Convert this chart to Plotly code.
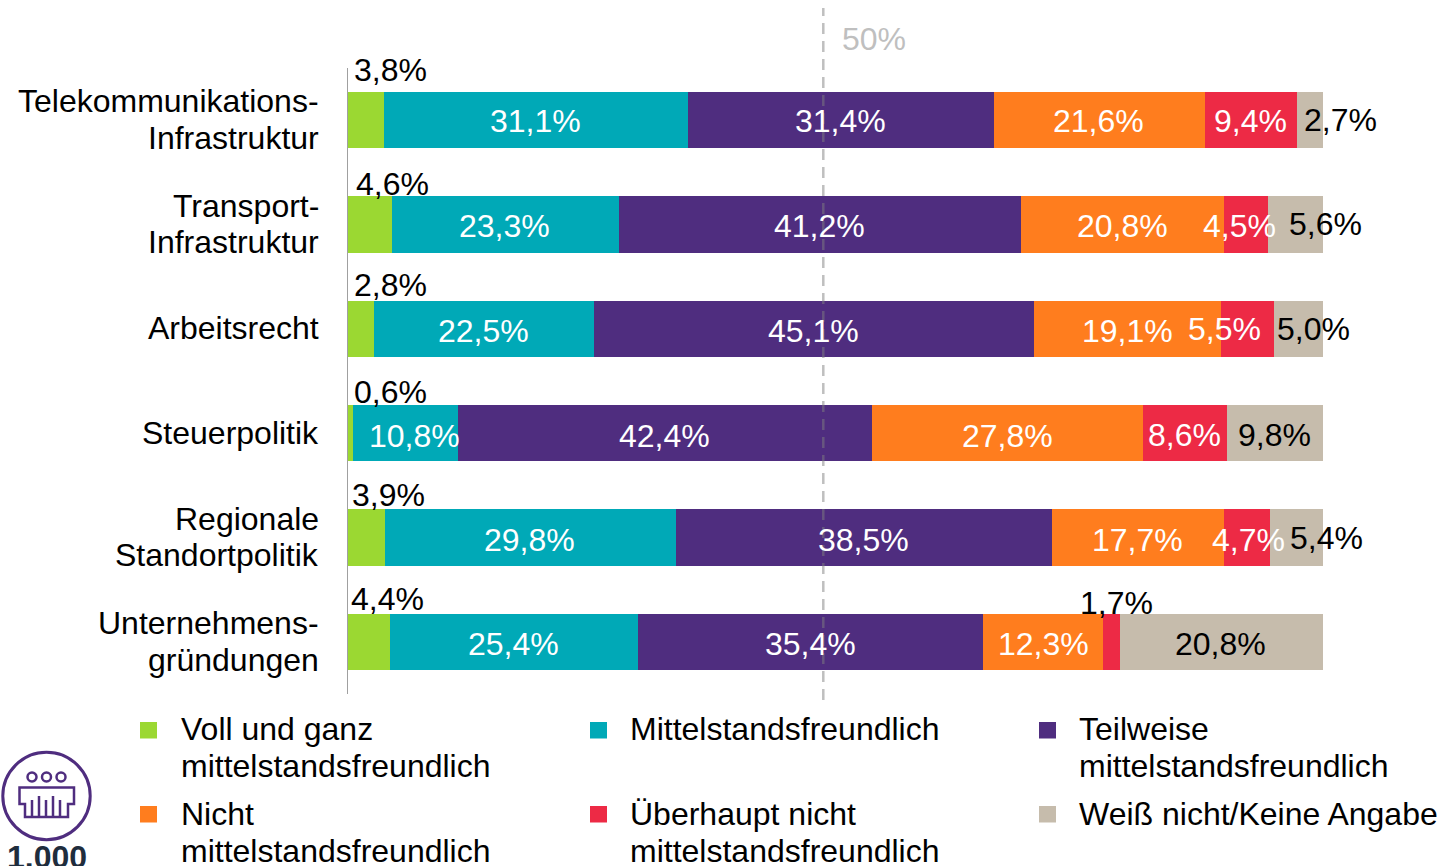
import plotly.graph_objects as go

W, H = 1443, 866
M_L, M_R, M_T, M_B = 347, 120, 68, 172

CATEGORIES = ["Telekommunikations-Infrastruktur", "Transport-Infrastruktur", "Arbeitsrecht",
              "Steuerpolitik", "Regionale Standortpolitik", "Unternehmens-gründungen"]
CATEGORY_LINES = [["Telekommunikations-", "Infrastruktur"], ["Transport-", "Infrastruktur"], ["Arbeitsrecht"],
                  ["Steuerpolitik"], ["Regionale", "Standortpolitik"], ["Unternehmens-", "gründungen"]]
SERIES_NAMES = ["Voll und ganz mittelstandsfreundlich", "Mittelstandsfreundlich",
                "Teilweise mittelstandsfreundlich", "Nicht mittelstandsfreundlich",
                "Überhaupt nicht mittelstandsfreundlich", "Weiß nicht/Keine Angabe"]
LEGEND_LINES = [["Voll und ganz", "mittelstandsfreundlich"], ["Mittelstandsfreundlich"],
                ["Teilweise", "mittelstandsfreundlich"], ["Nicht", "mittelstandsfreundlich"],
                ["Überhaupt nicht", "mittelstandsfreundlich"], ["Weiß nicht/Keine Angabe"]]
voll = [3.8, 4.6, 2.8, 0.6, 3.9, 4.4]
mittel = [31.1, 23.3, 22.5, 10.8, 29.8, 25.4]
teilweise = [31.4, 41.2, 45.1, 42.4, 38.5, 35.4]
nicht = [21.6, 20.8, 19.1, 27.8, 17.7, 12.3]
ueberhaupt = [9.4, 4.5, 5.5, 8.6, 4.7, 1.7]
weiss = [2.7, 5.6, 5.0, 9.8, 5.4, 20.8]
SERIES = [voll, mittel, teilweise, nicht, ueberhaupt, weiss]
COLORS = ["#9BD832", "#00A9B7", "#4F2D7F", "#FF7D1E", "#ED2A45", "#C6BCAC"]
REF_LINE_VALUE = 48.8
REF_LABEL = "50%"
BASE_LABEL = "1.000"

# pixel nudges of each value label from the centre of its segment (row by row)
DX = [[24.5, -.5, 0, -1, -.5, 31], [22.6, -1, -.4, -.9, -6.4, 30.3], [30.3, -1, -1, -.3, -22.4, 14.4],
      [40.1, 8.9, -.2, 0, -.4, -.2], [22, -.5, 0, -1, 1.6, 30.3], [19.5, -.9, -.6, .4, 5, -.8]]
DY = [[-50, 1, 1, 1, 1, 0], [-40.6, 1.4, 1.4, 1.4, 1.4, -1], [-44, 2, 2, 2, 0, 0],
      [-41, 2.6, 2.6, 2.6, 1.6, 1.6], [-43, 2, 2, 2, 2, 0], [-43, 2, 2, 2, -39, 2]]
BLACK_LABEL_SERIES = {0, 5}
FONT = "Liberation Sans"
FS = 32
LINE = 36.6

PW, PH = W - M_L - M_R, H - M_T - M_B
def px(x): return (x - M_L) / PW
def py(y): return 1 - (y - M_T) / PH

fig = go.Figure()
for name, vals, col in zip(SERIES_NAMES, SERIES, COLORS):
    fig.add_bar(y=CATEGORIES, x=vals, name=name, orientation="h", marker=dict(color=col, line_width=0),
                width=0.537, hoverinfo="skip", showlegend=False)

ann = []
def text(x, y, t, color="#000000", size=FS, anchor="left", bold=False):
    ann.append(dict(x=px(x), y=py(y), xref="paper", yref="paper", text=f"<b>{t}</b>" if bold else t, showarrow=False,
                    xanchor=anchor, yanchor="middle", align=anchor, font=dict(family=FONT, size=size, color=color),
                    borderpad=0, borderwidth=0))

# value labels
for r, cat in enumerate(CATEGORIES):
    cum = 0.0
    for s, vals in enumerate(SERIES):
        v = vals[r]
        centre = cum + v / 2
        cum += v
        black = s in BLACK_LABEL_SERIES or DY[r][s] < -20
        ann.append(dict(x=centre, y=cat, xref="x", yref="y", text=f"{v:.1f}%".replace(".", ","), showarrow=False,
                        xanchor="center", yanchor="middle", xshift=DX[r][s], yshift=-DY[r][s],
                        font=dict(family=FONT, size=FS, color="#000000" if black else "#FFFFFF")))

# category labels
for r, (cat, lines) in enumerate(zip(CATEGORIES, CATEGORY_LINES)):
    n = len(lines)
    for i, line in enumerate(lines):
        off = (i - (n - 1) / 2) * LINE
        ann.append(dict(x=0, y=cat, xref="paper", yref="y", text=line, showarrow=False, xanchor="right",
                        yanchor="middle", xshift=-26, yshift=-off + 0.5,
                        font=dict(family=FONT, size=FS, color="#000000")))

# 50% reference
ann.append(dict(x=REF_LINE_VALUE, y=1, xref="x", yref="paper", text=REF_LABEL, showarrow=False, xanchor="left",
                yanchor="middle", xshift=17, yshift=29, font=dict(family=FONT, size=FS, color="#BFBFBF")))
shapes = [dict(type="line", x0=REF_LINE_VALUE, x1=REF_LINE_VALUE, xref="x", y0=py(700), y1=py(8), yref="paper",
               line=dict(color="#808080", width=2.5, dash="11px,7px"), opacity=0.5, layer="above"),
          dict(type="line", x0=0, x1=0, xref="x", y0=0, y1=1, yref="paper",
               line=dict(color="#A0A0A0", width=2), layer="above")]

# legend
COLS = [(140, 181), (590, 630), (1039, 1079)]
ROWS = [(729.3, 722), (814.3, 806)]
for i, (lines, col) in enumerate(zip(LEGEND_LINES, COLORS)):
    sq, tx = COLS[i % 3]
    ty, sy = ROWS[i // 3]
    shapes.append(dict(type="rect", x0=px(sq), x1=px(sq + 17), y0=py(sy), y1=py(sy + 16.5), xref="paper", yref="paper",
                       fillcolor=col, line_width=0))
    for j, line in enumerate(lines):
        text(tx, ty + j * LINE, line)

# icon
IC = "#4F2D7F"
def circ(cx, cy, r, w):
    shapes.append(dict(type="circle", x0=px(cx - r), x1=px(cx + r), y0=py(cy - r), y1=py(cy + r), xref="paper",
                       yref="paper", line=dict(color=IC, width=w)))
def path(pts, w=2.5, close=False):
    d = "M" + " L".join(f"{px(a):.5f},{py(b):.5f}" for a, b in pts) + (" Z" if close else "")
    shapes.append(dict(type="path", path=d, xref="paper", yref="paper", line=dict(color=IC, width=w)))
circ(46.5, 796, 43.7, 3)
for cx in (32, 46.5, 61):
    circ(cx, 777, 4.5, 2.5)
path([(19.5, 787.5), (74, 787.5), (74, 804), (68, 804), (68, 817), (25, 817), (25, 804), (19.5, 804)], close=True)
for x, top in [(32, 800), (39, 796), (46, 800), (53, 796), (60, 800)]:
    path([(x, top), (x, 817)])

text(46.5, 857, BASE_LABEL, color="#1F2D3D", size=32, anchor="center", bold=True)

fig.update_layout(
    width=W, height=H, margin=dict(l=M_L, r=M_R, t=M_T, b=M_B, autoexpand=False), barmode="stack",
    paper_bgcolor="#FFFFFF", plot_bgcolor="#FFFFFF", showlegend=False, font=dict(family=FONT, size=FS),
    xaxis=dict(range=[0, 100], visible=False, fixedrange=True),
    yaxis=dict(range=[5.5, -0.5], showticklabels=False, showgrid=False, zeroline=False, ticks="", fixedrange=True),
    annotations=ann, shapes=shapes)
fig.write_html("out.html", config={"displayModeBar": False},
               post_script="document.body.style.margin='0';document.body.style.overflow='hidden';")
